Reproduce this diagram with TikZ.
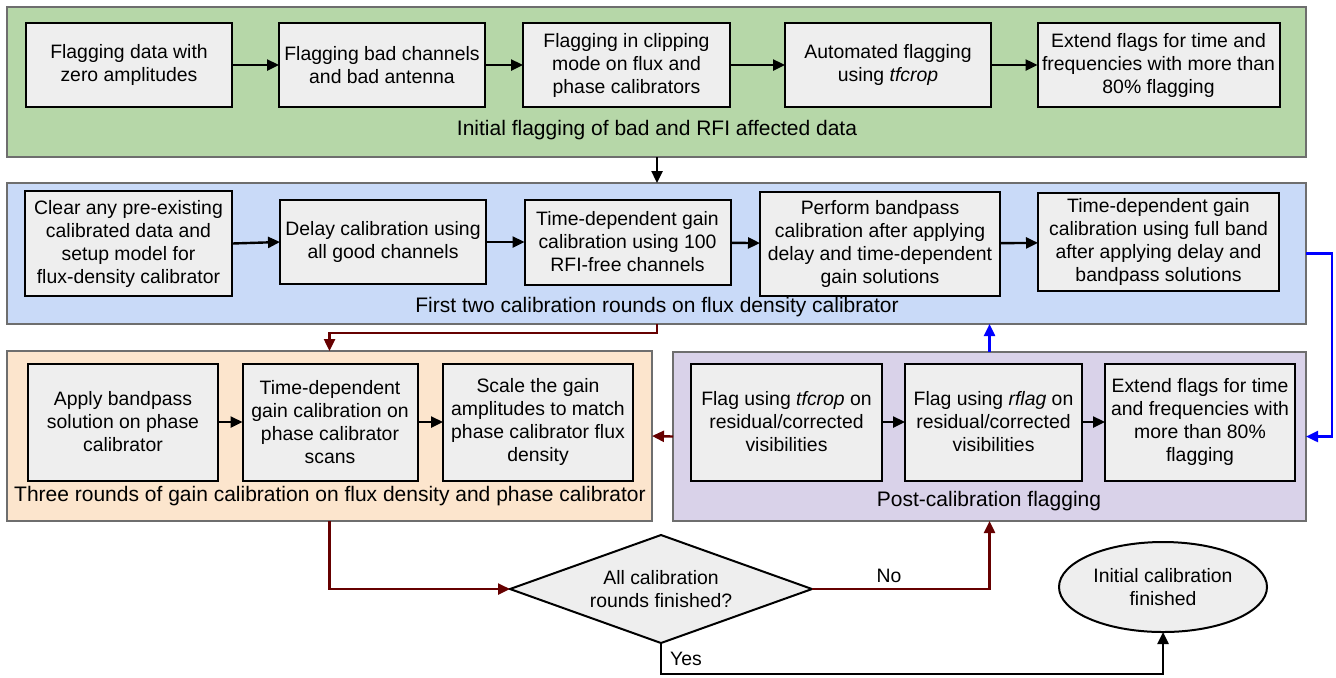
\documentclass[tikz,border=0pt]{standalone}
\usepackage{fontspec}
\setmainfont{Liberation Sans}
\usetikzlibrary{arrows.meta,shapes.geometric}
\definecolor{pgreen}{HTML}{B6D7A8}
\definecolor{pblue}{HTML}{C9DAF8}
\definecolor{porange}{HTML}{FCE5CD}
\definecolor{ppurple}{HTML}{D9D2E9}
\definecolor{boxfill}{HTML}{EEEEEE}
\definecolor{panelgray}{HTML}{6E6E6E}
\definecolor{darkred}{HTML}{660000}
\definecolor{linkblue}{HTML}{0000FF}
\begin{document}
\begin{tikzpicture}[x=0.5pt,y=-0.5pt,
  panel/.style={draw=panelgray, line width=1pt, inner sep=0pt, outer sep=0pt},
  box/.style={draw=black, line width=1pt, fill=boxfill, align=center, inner sep=0pt, outer sep=0pt,
    font=\fontsize{9.7}{11.5}\selectfont},
  plbl/.style={inner sep=0pt, font=\fontsize{10.5}{12.5}\selectfont},
  elbl/.style={inner sep=0pt, font=\fontsize{9.7}{11.5}\selectfont},
  arr/.style={line width=1.2pt, -{Triangle[length=6pt,width=5.5pt]}},
  redarr/.style={arr, draw=darkred},
  bluearr/.style={arr, draw=linkblue}]
\useasboundingbox (0,0) rectangle (1336,677);
% panels
\node[panel, fill=pgreen, minimum width=649.5pt, minimum height=75pt] (P1) at (656.5,82) {};
\node[panel, fill=pblue, minimum width=649.5pt, minimum height=70.5pt] (P2) at (656.5,253.5) {};
\node[panel, fill=porange, minimum width=322.5pt, minimum height=85pt] (P3) at (329.5,436) {};
\node[panel, fill=ppurple, minimum width=316.5pt, minimum height=84.5pt] (P4) at (989.5,436.5) {};
% panel labels
\node[plbl] (L1) at (657,130) {Initial flagging of bad and RFI affected data};
\node[plbl] (L2) at (657,307) {First two calibration rounds on flux density calibrator};
\node[plbl] (L3) at (330,496) {Three rounds of gain calibration on flux density and phase calibrator};
\node[plbl] (L4) at (989,501) {Post-calibration flagging};
% green boxes
\node[box, minimum width=103pt, minimum height=42pt] (b1) at (129,65) {Flagging data with\\zero amplitudes};
\node[box, minimum width=103pt, minimum height=42pt] (b2) at (382,65) {Flagging bad channels\\and bad antenna};
\node[box, minimum width=103.5pt, minimum height=42pt] (b3) at (626.5,65) {Flagging in clipping\\mode on flux and\\phase calibrators};
\node[box, minimum width=103pt, minimum height=42pt] (b4) at (888,65) {Automated flagging\\using \textit{tfcrop}};
\node[box, minimum width=121pt, minimum height=42pt] (b5) at (1158.5,65) {Extend flags for time and\\frequencies with more than\\80\% flagging};
% blue boxes
\node[box, minimum width=103.5pt, minimum height=52.5pt] (c1) at (128.5,243.5) {Clear any pre-existing\\calibrated data and\\setup model for\\flux-density calibrator};
\node[box, minimum width=103pt, minimum height=42pt] (c2) at (383,242) {Delay calibration using\\all good channels};
\node[box, minimum width=103pt, minimum height=42.5pt] (c3) at (627.5,242) {Time-dependent gain\\calibration using 100\\RFI-free channels};
\node[box, minimum width=120pt, minimum height=52pt] (c4) at (880,244) {Perform bandpass\\calibration after applying\\delay and time-dependent\\gain solutions};
\node[box, minimum width=120.5pt, minimum height=49pt] (c5) at (1158.5,242) {Time-dependent gain\\calibration using full band\\after applying delay and\\bandpass solutions};
% orange boxes
\node[box, minimum width=95pt, minimum height=58.5pt] (d1) at (123,422) {Apply bandpass\\solution on phase\\calibrator};
\node[box, minimum width=87.5pt, minimum height=58.5pt] (d2) at (330,422) {Time-dependent\\gain calibration on\\phase calibrator\\scans};
\node[box, minimum width=95pt, minimum height=58.5pt] (d3) at (538,422) {Scale the gain\\amplitudes to match\\phase calibrator flux\\density};
% purple boxes
\node[box, minimum width=95.5pt, minimum height=58.5pt] (e1) at (786.5,422) {Flag using \textit{tfcrop} on\\residual/corrected\\visibilities};
\node[box, minimum width=88.5pt, minimum height=58.5pt] (e2) at (993.5,422) {Flag using \textit{rflag} on\\residual/corrected\\visibilities};
\node[box, minimum width=95pt, minimum height=58.5pt] (e3) at (1200,422) {Extend flags for time\\and frequencies with\\more than 80\%\\flagging};
% decision and end
\node[box, shape=diamond, aspect=2.8, minimum width=151pt, minimum height=54pt] (dia) at (661,589) {All calibration\\rounds finished?};
\node[box, shape=ellipse, minimum width=104pt, minimum height=45pt] (ell) at (1163,587) {Initial calibration\\finished};
% arrows inside panels
\draw[arr] (b1) -- (b2);
\draw[arr] (b2) -- (b3);
\draw[arr] (b3) -- (b4);
\draw[arr] (b4) -- (b5);
\draw[arr] (c1.east) -- (c2.west);
\draw[arr] (c2) -- (c3);
\draw[arr] (c3) -- (c4);
\draw[arr] (c4) -- (c5);
\draw[arr] (d1) -- (d2);
\draw[arr] (d2) -- (d3);
\draw[arr] (e1) -- (e2);
\draw[arr] (e2) -- (e3);
% panel connectors
\draw[arr] (P1.south -| 657,0) -- (P2.north -| 657,0);
\draw[redarr] (P2.south -| 657,0) -- (657,333) -| (P3.north);
\draw[bluearr] (P2.east) -- (1332,253.5) |- (P4.east);
\draw[bluearr] (P4.north) -- (P2.south -| P4.north);
\draw[redarr] (P4.west) -- (P3.east);
\draw[redarr] (P3.south) |- (dia.west);
\draw[redarr] (dia.east) -| (P4.south);
\coordinate (yc) at (661,674);
\draw[arr] (dia.south) -- (yc) -| (ell.south);
\node[elbl] (no) at (889,576) {No};
\node[elbl] (yes) at (686,659) {Yes};
\end{tikzpicture}
\end{document}
